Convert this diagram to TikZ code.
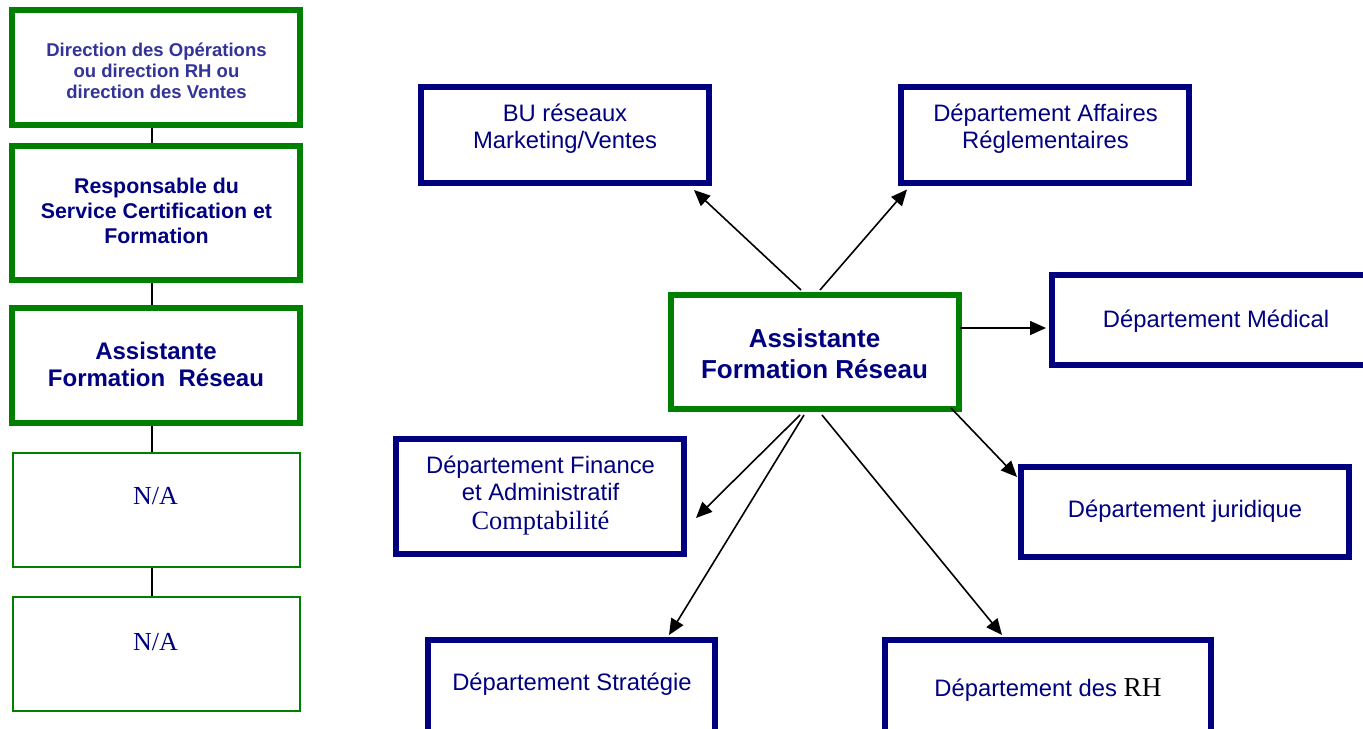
\documentclass[tikz,border=0pt]{standalone}
\usepackage{fontspec}
\setmainfont{Liberation Serif}
\setsansfont{Liberation Sans}
\usetikzlibrary{arrows.meta,calc}
\definecolor{boxgreen}{RGB}{0,128,0}
\definecolor{boxnavy}{RGB}{0,0,128}
\definecolor{softnavy}{RGB}{51,51,153}
\begin{document}
\begin{tikzpicture}[x=0.75pt,y=-0.75pt,
  sz/.style 2 args={minimum width=#1*0.75pt, minimum height=#2*0.75pt},
  greenthick/.style={draw=boxgreen, line width=4.5pt, fill=white, inner sep=0pt},
  greenthin/.style={draw=boxgreen, line width=1.5pt, fill=white, inner sep=0pt},
  navybox/.style={draw=boxnavy, line width=4.5pt, fill=white, inner sep=0pt},
  sanstext/.style={inner sep=0pt, align=center, text=boxnavy,
    font=\sffamily\fontsize{17.85pt}{20.25pt}\selectfont},
  serifna/.style={inner sep=0pt, anchor=base, text=boxnavy,
    font=\rmfamily\fontsize{19.5pt}{22pt}\selectfont},
  link/.style={draw=black, line width=1.2pt},
  arrowlink/.style={link, -{Triangle[length=12pt,width=10.5pt]}},
]
\useasboundingbox (0,0) rectangle (1363,728);
\fill[white] (0,0) rectangle (1363,728);
\clip (0,0) rectangle (1363,728);

% ---- left column: reporting line ----
\node[greenthick, sz={288}{115}] (b1) at (156,67.5) {};
\node[greenthick, sz={288}{134}] (b2) at (156,213) {};
\node[greenthick, sz={288}{115}] (b3) at (156,365.5) {};
\node[greenthin,  sz={287}{114}] (b4) at (156.5,510) {};
\node[greenthin,  sz={287}{114}] (b5) at (156.5,654) {};

\draw[link] ($(b1.south)+(-4,0)$) -- ($(b2.north)+(-4,0)$);
\draw[link] ($(b2.south)+(-4,0)$) -- ($(b3.north)+(-4,0)$);
\draw[link] ($(b3.south)+(-4,0)$) -- ($(b4.north)+(-4.5,0)$);
\draw[link] ($(b4.south)+(-4.5,0)$) -- ($(b5.north)+(-4.5,0)$);

\node[inner sep=0pt, align=center, text=softnavy,
      font=\sffamily\bfseries\fontsize{13.9pt}{15.75pt}\selectfont] (t1) at (156.5,71)
  {Direction des Opérations\\ou direction RH ou\\direction des Ventes};
\node[inner sep=0pt, align=center, text=boxnavy,
      font=\sffamily\bfseries\fontsize{16pt}{18.75pt}\selectfont] (t2) at (156.5,211)
  {Responsable du\\Service Certification et\\Formation};
\node[inner sep=0pt, align=center, text=boxnavy,
      font=\sffamily\bfseries\fontsize{18pt}{20.25pt}\selectfont] (t3) at (156,364.9)
  {Assistante\\Formation~ Réseau};
\node[serifna] (t4) at (155.5,504) {N/A};
\node[serifna] (t5) at (155.5,650) {N/A};

% ---- right part: network of departments ----
\node[greenthick, sz={288}{114}] (ctr) at (815,352) {};
\node[navybox, sz={288}{96}]  (bu)  at (565,135) {};
\node[navybox, sz={288}{96}]  (aff) at (1045,135) {};
\node[navybox, sz={328}{90}]  (med) at (1216,320) {};
\node[navybox, sz={288}{115}] (fin) at (540,496.5) {};
\node[navybox, sz={328}{90}]  (jur) at (1185,512) {};
\node[navybox, sz={287}{120}] (str) at (571.5,700) {};
\node[navybox, sz={326}{120}] (rh)  at (1048,700) {};

\node[inner sep=0pt, align=center, text=boxnavy,
      font=\sffamily\bfseries\fontsize{19.5pt}{23.25pt}\selectfont] (tctr) at (814.5,354.2)
  {Assistante\\Formation Réseau};
\node[sanstext] (tbu) at (565,129.1) {BU réseaux\\Marketing/Ventes};
\node[sanstext] (taff) at (1045.5,129.1) {Département Affaires\\Réglementaires};
\node[sanstext, anchor=base] (tmed) at (1216,327) {Département Médical};
\node[sanstext] (tfin) at (540.5,496)
  {Département Finance\\et Administratif\\[1.5pt]{\rmfamily\fontsize{19.8pt}{22pt}\selectfont Comptabilité}};
\node[sanstext, anchor=base] (tjur) at (1185,517) {Département juridique};
\node[sanstext, anchor=base] (tstr) at (572,690) {Département Stratégie};
\node[sanstext, anchor=base] (trh) at (1048,696)
  {Département des {\rmfamily\fontsize{20.5pt}{22pt}\selectfont\color{black}RH}};

% ---- arrows from the central box ----
\draw[arrowlink] ($(ctr.north)+(-14,-2)$) -- ($(bu.south)+(129,4)$);
\draw[arrowlink] ($(ctr.north)+(5,-2)$) -- ($(aff.south)+(-138,3.5)$);
\draw[arrowlink] ($(ctr.east)+(-2,-24)$) -- ($(med.west)+(-3,8)$);
\draw[arrowlink] ($(ctr.south east)+(-11,-4)$) -- ($(jur.west)+(-1,-35)$);
\draw[arrowlink] ($(ctr.south)+(-15,3)$) -- ($(fin.east)+(9,21.5)$);
\draw[arrowlink] ($(ctr.south)+(-11,3)$) -- ($(str.north)+(97.5,-2)$);
\draw[arrowlink] ($(ctr.south)+(7,3)$) -- ($(rh.north)+(-46,-2)$);
\end{tikzpicture}
\end{document}
